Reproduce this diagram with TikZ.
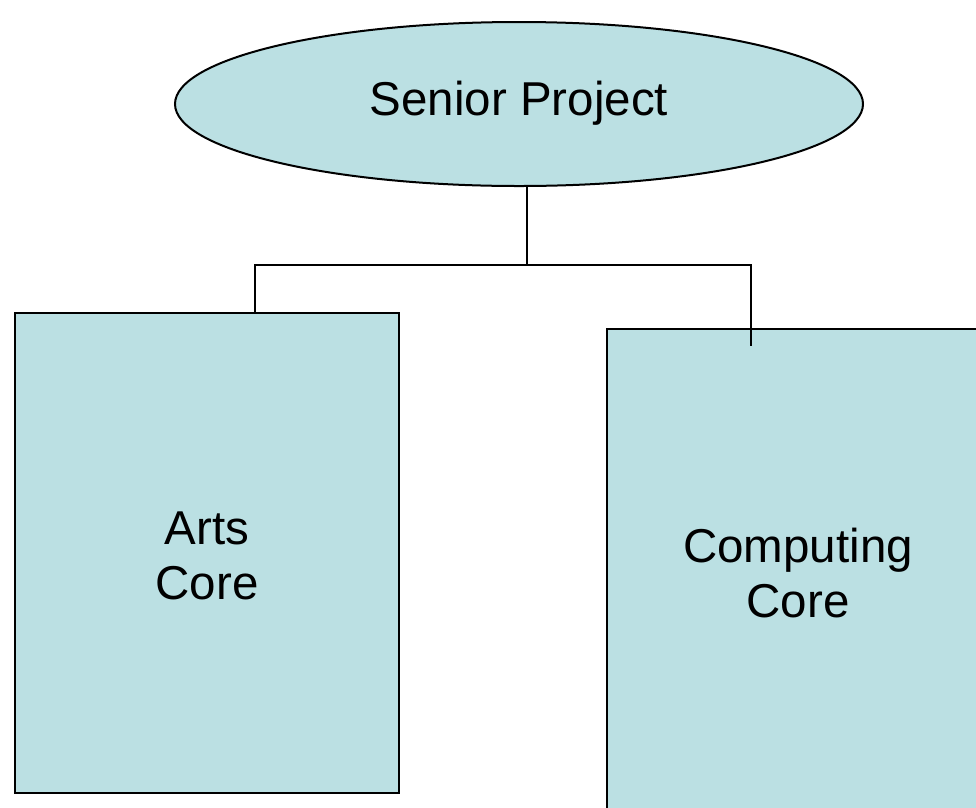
\documentclass[tikz,border=0pt]{standalone}
\usepackage{fontspec}
\setmainfont{Liberation Sans}
\usetikzlibrary{shapes.geometric}
\definecolor{boxfill}{RGB}{187,224,227}
\tikzset{
  box/.style={draw=black, line width=2pt, fill=boxfill, inner sep=0pt},
  txt/.style={align=center, inner sep=0pt, font=\fontsize{47.5}{55}\selectfont},
  link/.style={draw=black, line width=2pt}
}
\begin{document}
\begin{tikzpicture}[x=1pt,y=-1pt]
\useasboundingbox (0,0) rectangle (976,807);
\clip (0,0) rectangle (976,807);
\node[box, ellipse, minimum width=688pt, minimum height=164pt] (sp) at (519,104) {};
\node[txt] (spt) at (519,103) {Senior Project};
\node[box, rectangle, minimum width=384pt, minimum height=480pt] (arts) at (207,553) {};
\node[txt] (artst) at (207,556) {Arts\\Core};
\node[box, rectangle, minimum width=382pt, minimum height=480pt] (comp) at (798,569) {};
\node[txt] (compt) at (798,573) {Computing\\Core};
\coordinate (top) at (527,186);
\coordinate (bus) at (527,265);
\coordinate (la) at (255,313);
\coordinate (lc) at (751,346);
\draw[link] (top) -- (bus);
\draw[link] (la) |- (bus);
\draw[link] (bus) -| (lc);
\end{tikzpicture}
\end{document}
